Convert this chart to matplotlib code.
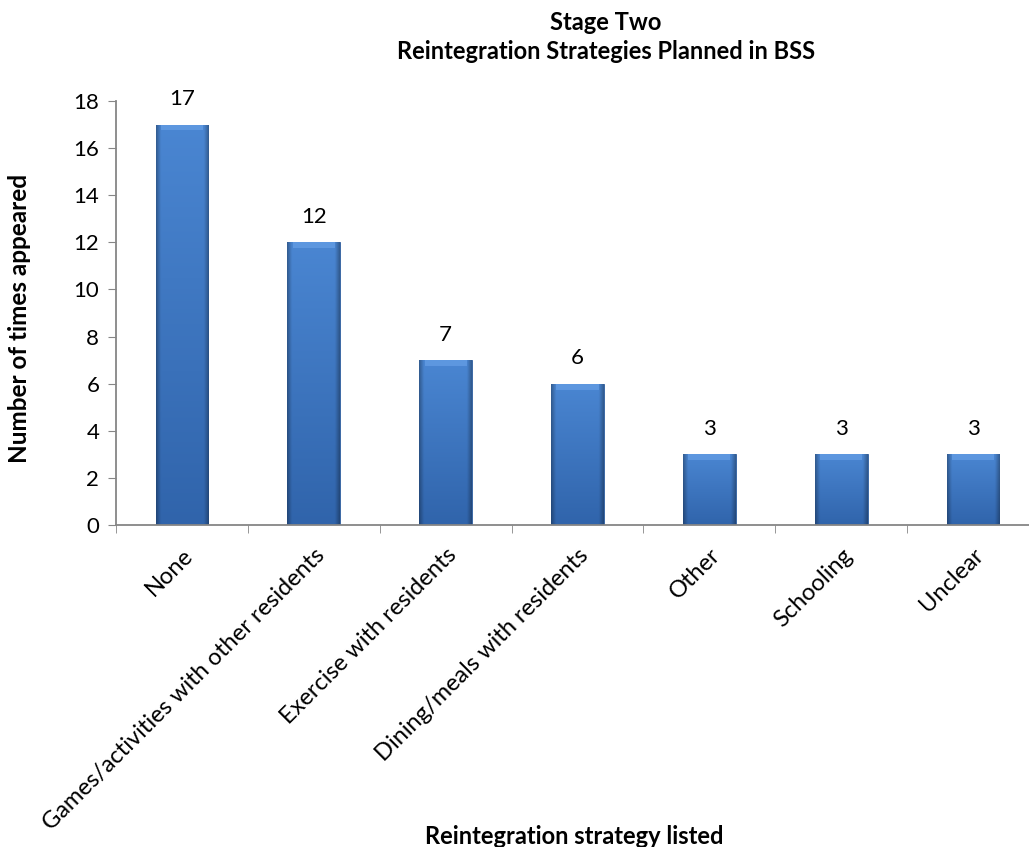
import numpy as np
import matplotlib.pyplot as plt
from matplotlib.colors import to_rgb

plt.rcParams['font.family'] = ['Lato', 'DejaVu Sans']

###############################################################################
# Dados
###############################################################################
categorias = ['None', 'Games/activities with other residents',
              'Exercise with residents', 'Dining/meals with residents',
              'Other', 'Schooling', 'Unclear']
contagens = [17, 12, 7, 6, 3, 3, 3]
y_ticks = [0, 2, 4, 6, 8, 10, 12, 14, 16, 18]

titulo = 'Stage Two\nReintegration Strategies Planned in BSS'
x_rotulo = 'Reintegration strategy listed'
y_rotulo = 'Number of times appeared'

###############################################################################
# Gradiente das barras (efeito bisel)
###############################################################################
def textura_barra(ny=200, nx=60):
    topo, base = np.array(to_rgb('#4a86d2')), np.array(to_rgb('#3064ab'))
    t = np.linspace(0, 1, ny)[:, None, None]
    img = topo * (1 - t) + base * t
    img = np.repeat(img, nx, axis=1)
    u = np.abs(np.linspace(-1, 1, nx))
    borda = np.clip((u - 0.82) / 0.18, 0, 1)[None, :, None]
    img = img * (1 - 0.3 * borda)
    return np.clip(img, 0, 1)

###############################################################################
fig = plt.figure(figsize=(10.29, 8.47), dpi=100)
ax = fig.add_axes([116/1029, 322/847, 923/1029, 424/847])

x = np.arange(len(categorias))
barras = ax.bar(x, contagens, width=0.4, color='#3d73bd', edgecolor='#2d5c9c',
                linewidth=0.6, zorder=2)

tex = textura_barra()
for b in barras:
    x0, y0 = b.get_x(), b.get_y()
    w, h = b.get_width(), b.get_height()
    im = ax.imshow(tex, extent=[x0, x0 + w, y0, y0 + h], aspect='auto',
                   zorder=2.5, interpolation='bilinear')
    im.set_clip_path(b)
    # bisel claro no topo
    ax.fill_between([x0 + w*0.1, x0 + w*0.9], y0 + h - 0.25, y0 + h,
                    color='#6ea6ec', alpha=0.55, lw=0, zorder=2.6)

for xi, c in zip(x, contagens):
    ax.annotate(str(c), (xi, c), xytext=(0, 11), textcoords='offset points',
                ha='center', va='bottom', fontsize=16)

ax.set_xlim(-0.5, len(categorias) - 0.5)
ax.set_ylim(0, 18)
ax.set_yticks(y_ticks)
ax.set_xticks(x)
ax.set_xticklabels(categorias, rotation=45, ha='right', rotation_mode='anchor',
                   fontsize=17)
ax.set_xticks(np.arange(len(categorias)) - 0.5, minor=True)
ax.tick_params(axis='x', which='major', length=0, pad=14)
ax.tick_params(axis='x', which='minor', length=6, color='#868686')
ax.tick_params(axis='y', length=6, color='#868686', labelsize=16, pad=6)

for s in ['top', 'right']:
    ax.spines[s].set_visible(False)
for s in ['left', 'bottom']:
    ax.spines[s].set_color('#868686')
    ax.spines[s].set_linewidth(1.3)

fig.text(606/1029, 1 - 37/847, titulo, ha='center', va='center',
         fontsize=17, fontweight='bold', linespacing=1.3)
fig.text(20/1029, 1 - 318/847, y_rotulo, rotation=90, ha='center',
         va='center', fontsize=17.5, fontweight='bold')
fig.text(574/1029, 1 - 836/847, x_rotulo, ha='center', va='center',
         fontsize=17, fontweight='bold')

plt.savefig('out.png', dpi=100)
